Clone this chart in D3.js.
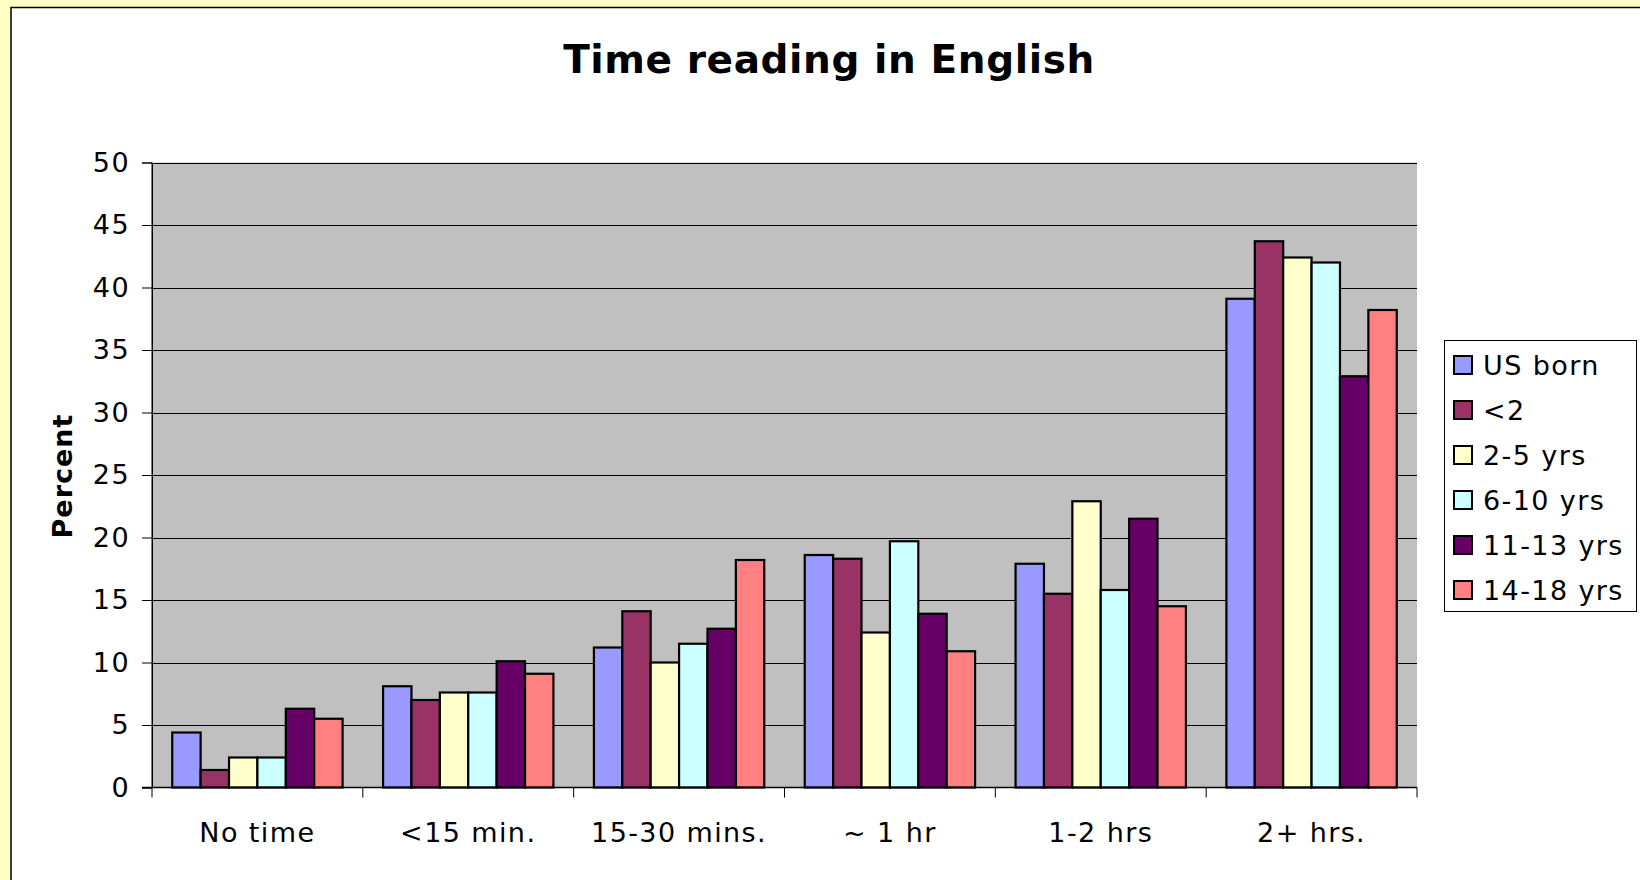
<!DOCTYPE html>
<html>
<head>
<style>
  body { margin: 0; background: #ffffc4; }
  svg text { font-family: "DejaVu Sans", Verdana, sans-serif; }
</style>
<script src="https://d3js.org/d3.v7.min.js"></script>
</head>
<body>
<svg width="1640" height="880" id="chart"></svg>
<script>
  // chart data
  var categories = ["No time", "<15 min.", "15-30 mins.", "~ 1 hr", "1-2 hrs", "2+ hrs."];
  var seriesNames = ["US born", "<2", "2-5 yrs", "6-10 yrs", "11-13 yrs", "14-18 yrs"];
  var usBorn   = [4.4, 8.1, 11.2, 18.6, 17.9, 39.1];
  var lt2      = [1.4, 7.0, 14.1, 18.3, 15.5, 43.7];
  var yrs2to5  = [2.4, 7.6, 10.0, 12.4, 22.9, 42.4];
  var yrs6to10 = [2.4, 7.6, 11.5, 19.7, 15.8, 42.0];
  var yrs11to13 = [6.3, 10.1, 12.7, 13.9, 21.5, 32.9];
  var yrs14to18 = [5.5, 9.1, 18.2, 10.9, 14.5, 38.2];
  var yTicks = [0, 5, 10, 15, 20, 25, 30, 35, 40, 45, 50];
  var colors = ["#9999ff", "#993366", "#ffffcc", "#ccffff", "#660066", "#ff8080"];

  var allSeries = [usBorn, lt2, yrs2to5, yrs6to10, yrs11to13, yrs14to18];

  var svg = d3.select("#chart");
  var plot = { left: 152, top: 162.5, right: 1417, bottom: 787.5 };
  var fs = 27, ls = "1.4px";

  // white panel with black border
  svg.append("rect")
    .attr("x", 11).attr("y", 7.5)
    .attr("width", 1700).attr("height", 1000)
    .attr("fill", "#fff")
    .attr("stroke", "#000")
    .attr("stroke-width", 1.5);

  var x0 = d3.scaleBand().domain(categories).range([plot.left, plot.right]);
  var x1 = d3.scaleBand().domain(seriesNames)
    .range([x0.bandwidth() * 0.096, x0.bandwidth() * 0.904]);
  var y = d3.scaleLinear().domain([0, 50]).range([plot.bottom, plot.top]);

  // plot area
  svg.append("rect")
    .attr("x", plot.left).attr("y", plot.top)
    .attr("width", plot.right - plot.left).attr("height", plot.bottom - plot.top)
    .attr("fill", "#c0c0c0");

  // gridlines
  svg.append("g").selectAll("line")
    .data(yTicks.filter(d => d > 0))
    .enter().append("line")
    .attr("x1", plot.left).attr("x2", plot.right)
    .attr("y1", d => Math.round(y(d)) + 0.5).attr("y2", d => Math.round(y(d)) + 0.5)
    .attr("stroke", "#000").attr("stroke-width", 1);

  // y axis
  var yAxis = svg.append("g")
    .attr("transform", "translate(" + plot.left + ",0)")
    .call(d3.axisLeft(y).tickValues(yTicks).tickSize(10).tickPadding(12));
  yAxis.select(".domain").attr("stroke", "#000").attr("stroke-width", 1);
  yAxis.selectAll("line").attr("stroke", "#000");
  yAxis.selectAll("text")
    .attr("font-size", fs)
    .attr("fill", "#000")
    .style("letter-spacing", ls)
    .style("font-family", "'DejaVu Sans', Verdana, sans-serif");

  // bars
  var groups = svg.append("g").selectAll("g")
    .data(categories)
    .enter().append("g")
    .attr("transform", d => "translate(" + x0(d) + ",0)");

  groups.selectAll("rect")
    .data((c, ci) => allSeries.map((s, si) => ({ name: seriesNames[si], value: s[ci], color: colors[si] })))
    .enter().append("rect")
    .attr("x", d => x1(d.name))
    .attr("width", x1.bandwidth())
    .attr("y", d => y(d.value))
    .attr("height", d => y(0) - y(d.value))
    .attr("fill", d => d.color)
    .attr("stroke", "#000")
    .attr("stroke-width", 2.2);

  // x axis line and category ticks
  svg.append("line")
    .attr("x1", plot.left - 10).attr("x2", plot.right)
    .attr("y1", plot.bottom).attr("y2", plot.bottom)
    .attr("stroke", "#000").attr("stroke-width", 1.5);

  var bounds = categories.map(c => x0(c)).concat([plot.right]);
  svg.append("g").selectAll("line")
    .data(bounds)
    .enter().append("line")
    .attr("x1", d => d).attr("x2", d => d)
    .attr("y1", plot.bottom).attr("y2", plot.bottom + 10)
    .attr("stroke", "#000").attr("stroke-width", 1);

  svg.append("g").selectAll("text")
    .data(categories)
    .enter().append("text")
    .attr("x", d => x0(d) + x0.bandwidth() / 2)
    .attr("y", 842)
    .attr("text-anchor", "middle")
    .attr("font-size", fs)
    .style("letter-spacing", ls)
    .text(d => d);

  // plot left border
  svg.append("line")
    .attr("x1", plot.left).attr("x2", plot.left)
    .attr("y1", plot.top).attr("y2", plot.bottom)
    .attr("stroke", "#000").attr("stroke-width", 1);

  // title
  svg.append("text")
    .attr("x", 829).attr("y", 73)
    .attr("text-anchor", "middle")
    .attr("font-size", 39)
    .attr("font-weight", "bold")
    .style("letter-spacing", "0.6px")
    .text("Time reading in English");

  // y axis title
  svg.append("text")
    .attr("transform", "translate(72,476) rotate(-90)")
    .attr("text-anchor", "middle")
    .attr("font-size", fs)
    .attr("font-weight", "bold")
    .style("letter-spacing", "1px")
    .text("Percent");

  // legend
  var legend = svg.append("g");
  legend.append("rect")
    .attr("x", 1444.5).attr("y", 340.5)
    .attr("width", 192).attr("height", 271)
    .attr("fill", "#fff")
    .attr("stroke", "#000").attr("stroke-width", 1);

  var items = legend.selectAll("g.item")
    .data(seriesNames)
    .enter().append("g")
    .attr("class", "item")
    .attr("transform", (d, i) => "translate(1454," + (365 + i * 45) + ")");

  items.append("rect")
    .attr("x", 0).attr("y", -9)
    .attr("width", 18).attr("height", 18)
    .attr("fill", (d, i) => colors[i])
    .attr("stroke", "#000").attr("stroke-width", 2);

  items.append("text")
    .attr("x", 29).attr("y", 10)
    .attr("font-size", fs)
    .style("letter-spacing", ls)
    .text(d => d);
</script>
</body>
</html>
